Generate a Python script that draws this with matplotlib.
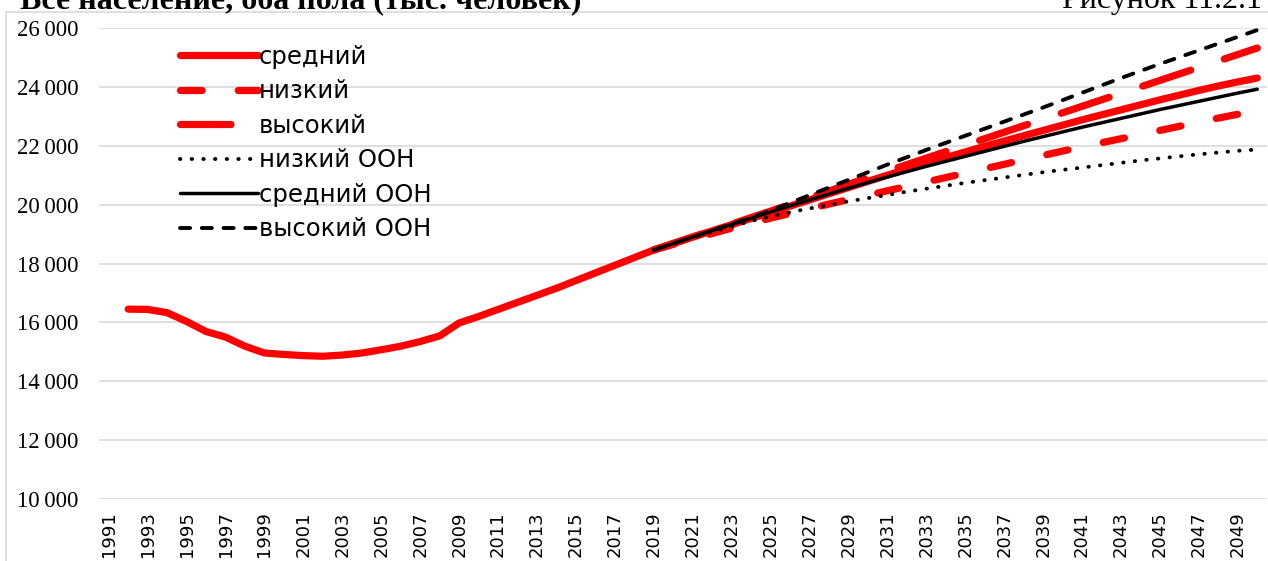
import numpy as np
import matplotlib
matplotlib.use("Agg")
import matplotlib.pyplot as plt
from matplotlib.patches import Rectangle

# years on the category axis
years = list(range(1991, 2051))
proj_years = list(range(2019, 2051))

# фактические данные + средний вариант (тыс. человек), 1991 нет данных
hist = [np.nan, 16450, 16440, 16330, 16030, 15690, 15500, 15190, 14960, 14910,
        14870, 14850, 14890, 14960, 15070, 15190, 15350, 15540, 15980, 16200,
        16440, 16680, 16920, 17160, 17420, 17680, 17940, 18200]
sredniy = [18460, 18680, 18900, 19110, 19320, 19530, 19740, 19950, 20160, 20370,
           20580, 20790, 21000, 21200, 21400, 21600, 21790, 21980, 22160, 22340,
           22520, 22700, 22880, 23050, 23220, 23390, 23560, 23720, 23880, 24030,
           24170, 24300]
nizkiy = [18460, 18650, 18840, 19020, 19200, 19370, 19540, 19700, 19860, 20020,
          20170, 20320, 20470, 20620, 20770, 20920, 21070, 21220, 21370, 21520,
          21670, 21820, 21960, 22100, 22240, 22380, 22520, 22660, 22800, 22940,
          23070, 23200]
vysokiy = [18460, 18680, 18900, 19120, 19340, 19560, 19780, 20000, 20230, 20460,
           20690, 20920, 21140, 21360, 21580, 21800, 22020, 22240, 22460, 22680,
           22900, 23120, 23340, 23560, 23780, 24000, 24220, 24440, 24660, 24880,
           25100, 25320]
nizkiy_un = [18460, 18680, 18880, 19080, 19260, 19440, 19600, 19740, 19870, 19990,
             20110, 20220, 20330, 20440, 20540, 20640, 20740, 20830, 20920, 21010,
             21100, 21180, 21260, 21340, 21420, 21500, 21570, 21640, 21710, 21770,
             21830, 21870]
sredniy_un = [18460, 18680, 18900, 19120, 19330, 19540, 19750, 19960, 20160, 20360,
              20560, 20750, 20940, 21120, 21300, 21470, 21640, 21810, 21980, 22150,
              22310, 22470, 22630, 22780, 22930, 23080, 23230, 23370, 23510, 23650,
              23790, 23920]
vysokiy_un = [18460, 18680, 18900, 19120, 19340, 19560, 19800, 20060, 20320, 20580,
              20840, 21100, 21360, 21610, 21860, 22100, 22340, 22580, 22820, 23060,
              23300, 23550, 23800, 24050, 24300, 24540, 24780, 25010, 25240, 25470,
              25700, 25930]

y_ticks = list(range(10000, 26001, 2000))
x_ticks = years[::2]

W, H = 1268, 561
fig = plt.figure(figsize=(W / 100, H / 100), dpi=100)
fig.patch.set_facecolor("white")

# chart frame (cut at right and bottom like the original)
fig.patches.append(Rectangle((6 / W, -0.1), 1.2, 1 - 12 / H + 0.1, transform=fig.transFigure,
                             fill=False, edgecolor="#d9d9d9", lw=1.2))

ax = fig.add_axes([99 / W, 62 / H, 1168 / W, 471 / H])
ax.set_xlim(1990.5, 2050.5)
ax.set_ylim(10000, 26000)
for s in ax.spines.values():
    s.set_visible(False)
ax.set_yticks(y_ticks)
ax.set_yticklabels([f"{v // 1000}\u2009000" for v in y_ticks],
                   family=["Liberation Serif", "DejaVu Serif"], fontsize=16.5)
ax.set_xticks(x_ticks)
ax.set_xticklabels([str(y) for y in x_ticks], rotation=90, fontsize=13,
                   family="DejaVu Sans", va="top")
ax.tick_params(axis="y", length=0, pad=15)
ax.tick_params(axis="x", length=0, pad=9)
ax.grid(axis="y", color="#d9d9d9", lw=1.2)
ax.set_axisbelow(True)

red = "#ff0000"
full_sredniy = hist + sredniy
l1, = ax.plot(years[:len(full_sredniy)], full_sredniy, color=red, lw=5.2,
              solid_capstyle="round", solid_joinstyle="round", clip_on=False, label="средний")
l2, = ax.plot(proj_years, nizkiy, color=red, lw=5.2, linestyle=(0, (3, 5)),
              dash_capstyle="round", clip_on=False, label="низкий")
l3, = ax.plot(proj_years, vysokiy, color=red, lw=5.2, linestyle=(0, (7, 4.9)),
              dash_capstyle="round", clip_on=False, label="высокий")
l4, = ax.plot(proj_years, nizkiy_un, color="black", lw=2.8, linestyle=(0, (0.1, 2.9)),
              dash_capstyle="round", clip_on=False, label="низкий ООН")
l5, = ax.plot(proj_years, sredniy_un, color="black", lw=2.5,
              solid_capstyle="round", clip_on=False, label="средний ООН")
l6, = ax.plot(proj_years, vysokiy_un, color="black", lw=2.8, linestyle=(0, (2.6, 3.0)),
              dash_capstyle="round", clip_on=False, label="высокий ООН")

fig.legend(handles=[l1, l2, l3, l4, l5, l6], loc="upper left",
           bbox_to_anchor=(180 / W, 1 - 45 / H), frameon=False,
           prop={"family": "DejaVu Sans", "size": 17.5},
           handlelength=3.2, handletextpad=0.05, labelspacing=0.43,
           borderpad=0, borderaxespad=0)

# title line, cut off at the top as in the source image
fig.text(20 / W, 1 - 8 / H, "Все население, оба пола (тыс. человек)",
         family="Liberation Serif", weight="bold", fontsize=23, va="baseline", ha="left")
fig.text(1262 / W, 1 - 8 / H, "Рисунок 11.2.1",
         family="Liberation Serif", fontsize=23, va="baseline", ha="right")

fig.savefig("out.png", dpi=100, facecolor="white")
